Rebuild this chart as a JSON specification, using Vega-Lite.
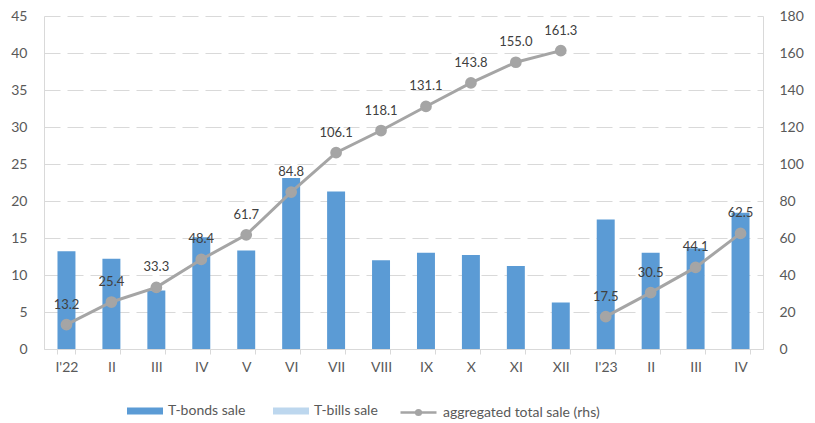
{
  "$schema": "https://vega.github.io/schema/vega-lite/v6.json",
  "width": 719,
  "height": 333,
  "autosize": {"type": "none"},
  "padding": {"left": 44, "top": 16, "right": 52, "bottom": 74},
  "background": "white",
  "config": {
    "view": {"stroke": null},
    "font": "Lato",
    "axis": {"labelFont": "Lato", "labelFontSize": 14, "labelColor": "#595959", "title": null},
    "legend": {"labelFont": "Lato", "labelFontSize": 14, "labelColor": "#595959"}
  },
  "data": {
    "values": [
      {"period": "I'22", "year": "2022", "T-bonds sale": 13.2, "T-bills sale": 0, "total": 13.2},
      {"period": "II_22", "year": "2022", "T-bonds sale": 12.2, "T-bills sale": 0, "total": 25.4},
      {"period": "III_22", "year": "2022", "T-bonds sale": 7.9, "T-bills sale": 0, "total": 33.3},
      {"period": "IV_22", "year": "2022", "T-bonds sale": 15.1, "T-bills sale": 0, "total": 48.4},
      {"period": "V_22", "year": "2022", "T-bonds sale": 13.3, "T-bills sale": 0, "total": 61.7},
      {"period": "VI_22", "year": "2022", "T-bonds sale": 23.1, "T-bills sale": 0, "total": 84.8},
      {"period": "VII_22", "year": "2022", "T-bonds sale": 21.3, "T-bills sale": 0, "total": 106.1},
      {"period": "VIII_22", "year": "2022", "T-bonds sale": 12.0, "T-bills sale": 0, "total": 118.1},
      {"period": "IX_22", "year": "2022", "T-bonds sale": 13.0, "T-bills sale": 0, "total": 131.1},
      {"period": "X_22", "year": "2022", "T-bonds sale": 12.7, "T-bills sale": 0, "total": 143.8},
      {"period": "XI_22", "year": "2022", "T-bonds sale": 11.2, "T-bills sale": 0, "total": 155.0},
      {"period": "XII_22", "year": "2022", "T-bonds sale": 6.3, "T-bills sale": 0, "total": 161.3},
      {"period": "I'23", "year": "2023", "T-bonds sale": 17.5, "T-bills sale": 0, "total": 17.5},
      {"period": "II_23", "year": "2023", "T-bonds sale": 13.0, "T-bills sale": 0, "total": 30.5},
      {"period": "III_23", "year": "2023", "T-bonds sale": 13.6, "T-bills sale": 0, "total": 44.1},
      {"period": "IV_23", "year": "2023", "T-bonds sale": 18.4, "T-bills sale": 0, "total": 62.5}
    ]
  },
  "encoding": {
    "x": {
      "field": "period",
      "type": "ordinal",
      "sort": null,
      "scale": {"paddingInner": 0.6, "paddingOuter": 0.3},
      "axis": {
        "labelExpr": "split(datum.label, '_')[0]",
        "labelAngle": 0,
        "tickBand": "extent",
        "ticks": true,
        "tickSize": 5,
        "tickColor": "#d9d9d9",
        "domainColor": "#d9d9d9",
        "labelPadding": 6,
        "grid": false
      }
    }
  },
  "layer": [
    {
      "transform": [{"fold": ["T-bonds sale", "T-bills sale"], "as": ["series", "value"]}],
      "mark": {"type": "bar"},
      "encoding": {
        "y": {
          "field": "value",
          "type": "quantitative",
          "stack": "zero",
          "scale": {"domain": [0, 45], "nice": false},
          "axis": {
            "values": [0, 5, 10, 15, 20, 25, 30, 35, 40, 45],
            "grid": true,
            "gridDash": [16, 7],
            "gridColor": "#d9d9d9",
            "ticks": false,
            "domainColor": "#d9d9d9",
            "labelPadding": 17
          }
        },
        "color": {
          "field": "series",
          "type": "nominal",
          "scale": {"domain": ["T-bonds sale", "T-bills sale"], "range": ["#5b9bd5", "#bdd7ee"]},
          "legend": {
            "title": null,
            "orient": "none",
            "direction": "horizontal",
            "legendX": 83,
            "legendY": 377,
            "padding": 0,
            "symbolType": "M-1,-0.2H1V0.2H-1Z",
            "symbolSize": 1296,
            "symbolStrokeWidth": 0,
            "labelOffset": 5,
            "columnPadding": 27
          }
        },
        "order": {"field": "series", "sort": "descending"}
      }
    },
    {
      "encoding": {
        "y": {
          "field": "total",
          "type": "quantitative",
          "scale": {"domain": [0, 180], "nice": false},
          "axis": {
            "orient": "right",
            "values": [0, 20, 40, 60, 80, 100, 120, 140, 160, 180],
            "grid": false,
            "ticks": false,
            "domainColor": "#d9d9d9",
            "labelPadding": 16
          }
        }
      },
      "layer": [
        {
          "mark": {"type": "line", "strokeWidth": 3, "point": {"filled": true, "size": 95, "color": "#a5a5a5"}},
          "encoding": {
            "detail": {"field": "year"},
            "stroke": {
              "datum": "aggregated total sale (rhs)",
              "scale": {"range": ["#a5a5a5"]},
              "legend": {
                "title": null,
                "orient": "none",
                "direction": "horizontal",
                "legendX": 355,
                "legendY": 377,
                "padding": 0,
                "symbolType": "M-1,0H1M0.13,0A0.13,0.13,0,1,1,-0.13,0A0.13,0.13,0,1,1,0.13,0Z",
                "symbolSize": 1296,
                "symbolStrokeWidth": 2.5,
                "symbolFillColor": "#a5a5a5",
                "labelOffset": 5
              }
            }
          }
        },
        {
          "mark": {"type": "text", "dy": -20, "fontSize": 13, "color": "#404040", "font": "Lato"},
          "encoding": {"text": {"field": "total", "type": "quantitative", "format": ".1f"}}
        }
      ]
    }
  ],
  "resolve": {"scale": {"y": "independent", "color": "independent"}}
}
